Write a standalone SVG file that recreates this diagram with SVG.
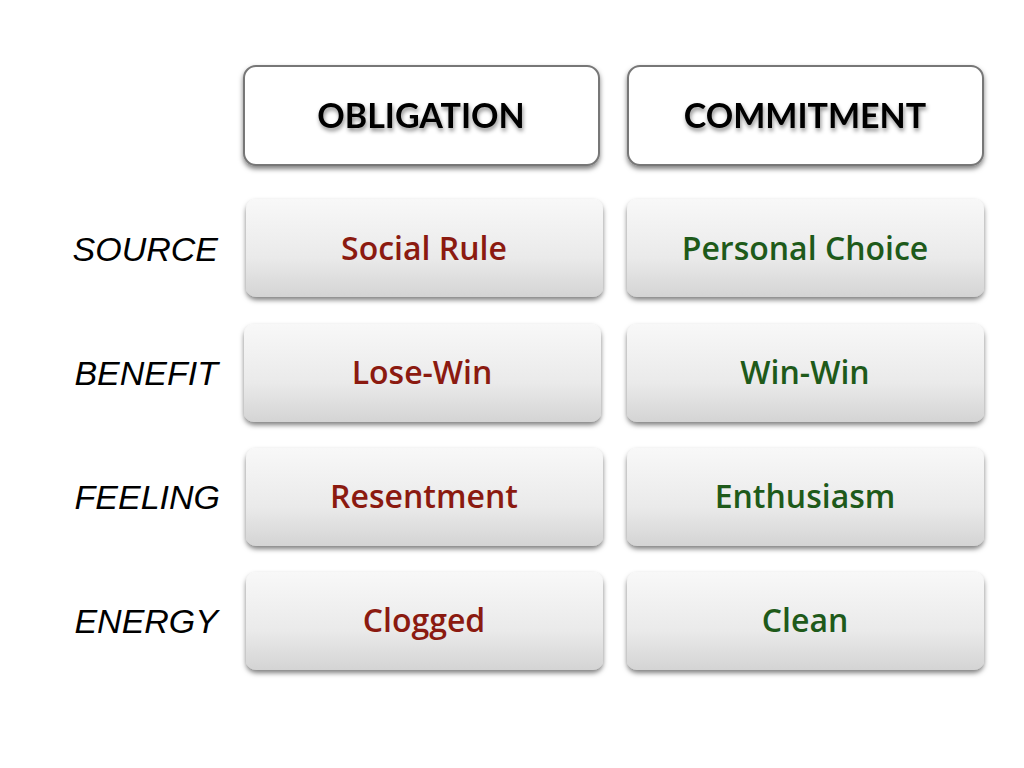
<svg xmlns="http://www.w3.org/2000/svg" width="1024" height="768" viewBox="0 0 1024 768">
<style>
.hd{fill:#fff;stroke:#777;stroke-width:2}
.cell{fill:url(#g);filter:url(#sh)}
.ht{font-family:"Lato","Open Sans",sans-serif;font-weight:bold;font-size:34px;fill:#000;text-anchor:middle;filter:url(#ts)}
.lab{font-family:"Liberation Sans","Open Sans",sans-serif;font-style:italic;font-size:34px;fill:#000;text-anchor:end}
.ct{font-family:"Open Sans","Lato",sans-serif;font-size:32px;text-anchor:middle;font-weight:600}
.r{fill:#8b1a10}.gr{fill:#1e5a1a}
</style>
<defs>
<linearGradient id="g" x1="0" y1="0" x2="0" y2="1"><stop offset="0" stop-color="#f8f8f8"/><stop offset="0.6" stop-color="#eaeaea"/><stop offset="1" stop-color="#d4d4d4"/></linearGradient>
<filter id="sh" x="-5%" y="-10%" width="110%" height="130%"><feDropShadow dx="0" dy="3" stdDeviation="2.5" flood-color="#000" flood-opacity="0.5"/></filter>
<filter id="ts" x="-5%" y="-20%" width="110%" height="150%"><feDropShadow dx="1" dy="3" stdDeviation="2" flood-color="#000" flood-opacity="0.45"/></filter>
</defs>
<rect width="1024" height="768" fill="#fff"/>
<g id="h1"><rect class="hd" x="244" y="66" width="355" height="99" rx="12" filter="url(#sh)"/><text class="ht" x="421" y="128">OBLIGATION</text></g>
<g id="h2"><rect class="hd" x="628" y="66" width="355" height="99" rx="12" filter="url(#sh)"/><text class="ht" x="805" y="128">COMMITMENT</text></g>
<g id="labels">
<text class="lab" x="218" y="261">SOURCE</text>
<text class="lab" x="218" y="385">BENEFIT</text>
<text class="lab" x="220" y="509">FEELING</text>
<text class="lab" x="218" y="633">ENERGY</text>
</g>
<g id="c1"><rect class="cell" x="246" y="199" width="357" height="98" rx="10"/><text class="ct r" x="424" y="260">Social Rule</text></g>
<g id="c2"><rect class="cell" x="627" y="199" width="357" height="98" rx="10"/><text class="ct gr" x="805" y="260">Personal Choice</text></g>
<g id="c3"><rect class="cell" x="244" y="324" width="357" height="98" rx="10"/><text class="ct r" x="422" y="384">Lose-Win</text></g>
<g id="c4"><rect class="cell" x="627" y="324" width="357" height="98" rx="10"/><text class="ct gr" x="805" y="384">Win-Win</text></g>
<g id="c5"><rect class="cell" x="246" y="448" width="357" height="98" rx="10"/><text class="ct r" x="424" y="508">Resentment</text></g>
<g id="c6"><rect class="cell" x="627" y="448" width="357" height="98" rx="10"/><text class="ct gr" x="805" y="508">Enthusiasm</text></g>
<g id="c7"><rect class="cell" x="246" y="572" width="357" height="98" rx="10"/><text class="ct r" x="424" y="632">Clogged</text></g>
<g id="c8"><rect class="cell" x="627" y="572" width="357" height="98" rx="10"/><text class="ct gr" x="805" y="632">Clean</text></g>
<g id="connectors"/>
</svg>
